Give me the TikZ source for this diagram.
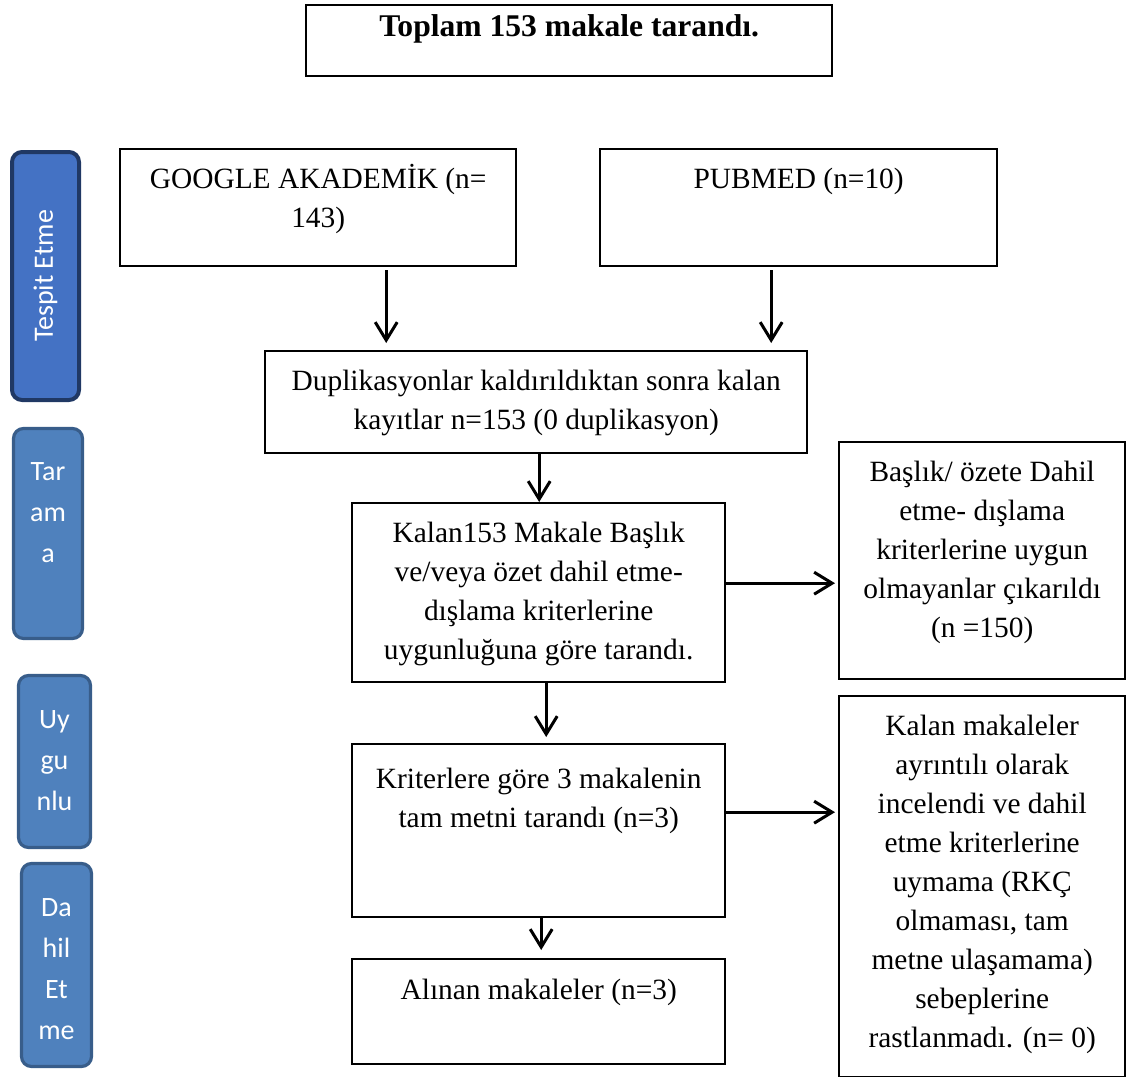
\documentclass[tikz,border=0pt]{standalone}
\usepackage{fontspec}
\setmainfont{Liberation Serif}
\newfontfamily\yanfont{Carlito}
\usepackage{tikz}
\usetikzlibrary{arrows.meta}
\usetikzlibrary{calc}

\definecolor{koyumavi}{HTML}{203864}
\definecolor{mavi1}{HTML}{4472C4}
\definecolor{mavi2}{HTML}{4F81BD}
\definecolor{cerceve}{HTML}{385D8A}

% box text: [strut] {width} {height} {text}
\newcommand{\kmetin}[4][19.5pt]{\parbox[c][#3][t]{#2}{\centering\rule{0pt}{#1}#4}}

\tikzset{
	kutu/.style={draw, line width=1.2pt, inner sep=0pt, anchor=north west,
		font=\fontsize{14.7}{19.5}\selectfont},
	serit/.style={draw=cerceve, fill=mavi2, line width=1.6pt, rounded corners=5pt,
		inner sep=0pt, text=white, font=\yanfont\fontsize{14}{20.5}\selectfont}
}

\begin{document}
\begin{tikzpicture}[x=0.5pt, y=-0.5pt]
		\useasboundingbox (0,0) rectangle (1126,1077);
		
		\node (baslik) [kutu, font=\bfseries\fontsize{15.8}{19.5}\selectfont] at (305, 4)
		{\kmetin[15.5pt]{263pt}{35.5pt}{Toplam 153 makale tarandı.}};
		
		\node (google) [kutu] at (119, 148) {\kmetin{198pt}{58.5pt}{GOOGLE AKADEMİK (n=\\143)}};
		\node (pubmed) [kutu] at (599, 148) {\kmetin{198.5pt}{58.5pt}{PUBMED (n=10)}};
		\node (dup) [kutu] at (264, 350) {\kmetin{271pt}{51pt}{Duplikasyonlar kaldırıldıktan sonra kalan\\kayıtlar n=153 (0 duplikasyon)}};
		\node (kalan) [kutu] at (351, 502) {\kmetin{186.5pt}{89.5pt}{Kalan153 Makale Başlık\\ve/veya özet dahil etme-\\dışlama kriterlerine\\uygunluğuna göre tarandı.}};
		\node (kriter) [kutu] at (351, 743) {\kmetin[22pt]{186.5pt}{86.5pt}{Kriterlere göre 3 makalenin\\tam metni tarandı (n=3)}};
		\node (alinan) [kutu] at (351, 958) {\kmetin[20pt]{186.5pt}{52.5pt}{Alınan makaleler (n=3)}};
		\node (cikan) [kutu] at (838, 441) {\kmetin{143pt}{118.5pt}{Başlık/ özete Dahil\\etme- dışlama\\kriterlerine uygun\\olmayanlar çıkarıldı\\(n =150)}};
		\node (kalmayan) [kutu] at (838, 695) {\kmetin{143pt}{190.5pt}{Kalan makaleler\\ayrıntılı olarak\\incelendi ve dahil\\etme kriterlerine\\uymama (RKÇ\\olmaması, tam\\metne ulaşamama)\\sebeplerine\\rastlanmadı. (n= 0)}};
		
		% evreler
		\node (tespit) [serit, draw=koyumavi, fill=mavi1, line width=2pt, rotate=90,
		minimum width=124pt, minimum height=33.5pt] at (45.5, 276) {Tespit Etme};
		\node (tarama) [serit] at (48, 533.5) {\kmetin[26pt]{34.5pt}{105pt}{Tar\\am\\a}};
		\node (uygun) [serit] at (54.5, 761.5) {\kmetin[26.5pt]{36pt}{86pt}{Uy\\gu\\nlu}};
		\node (dahil) [serit] at (56.5, 965) {\kmetin[26.5pt]{35pt}{101.5pt}{Da\\hil\\Et\\me}};
		
		\begin{scope}[>={Straight Barb[length=9pt, width=11pt]},
		every edge/.style = {draw = black, line width=1.5pt}]
		\path [->] ($(google.south)+(68,3)$) edge ($(google.south |- dup.north)+(68,-7)$)
		($(pubmed.south)+(-27.5,3)$) edge ($(pubmed.south |- dup.north)+(-27.5,-7)$)
		($(kalan.north |- dup.south)+(0.5,0)$) edge ($(kalan.north)+(0.5,0)$)
		($(kalan.east)+(0,-9.5)$) edge ($(kalan.east -| cikan.west)+(-3,-9.5)$)
		($(kriter.north |- kalan.south)+(7.5,0)$) edge ($(kriter.north)+(7.5,-6)$)
		($(kriter.east)+(0,-18.5)$) edge ($(kriter.east -| kalmayan.west)+(-3,-18.5)$)
		($(kriter.south)+(2.5,0)$) edge ($(kriter.south |- alinan.north)+(2.5,-8)$);
		\end{scope}
		
\end{tikzpicture}
\end{document}
